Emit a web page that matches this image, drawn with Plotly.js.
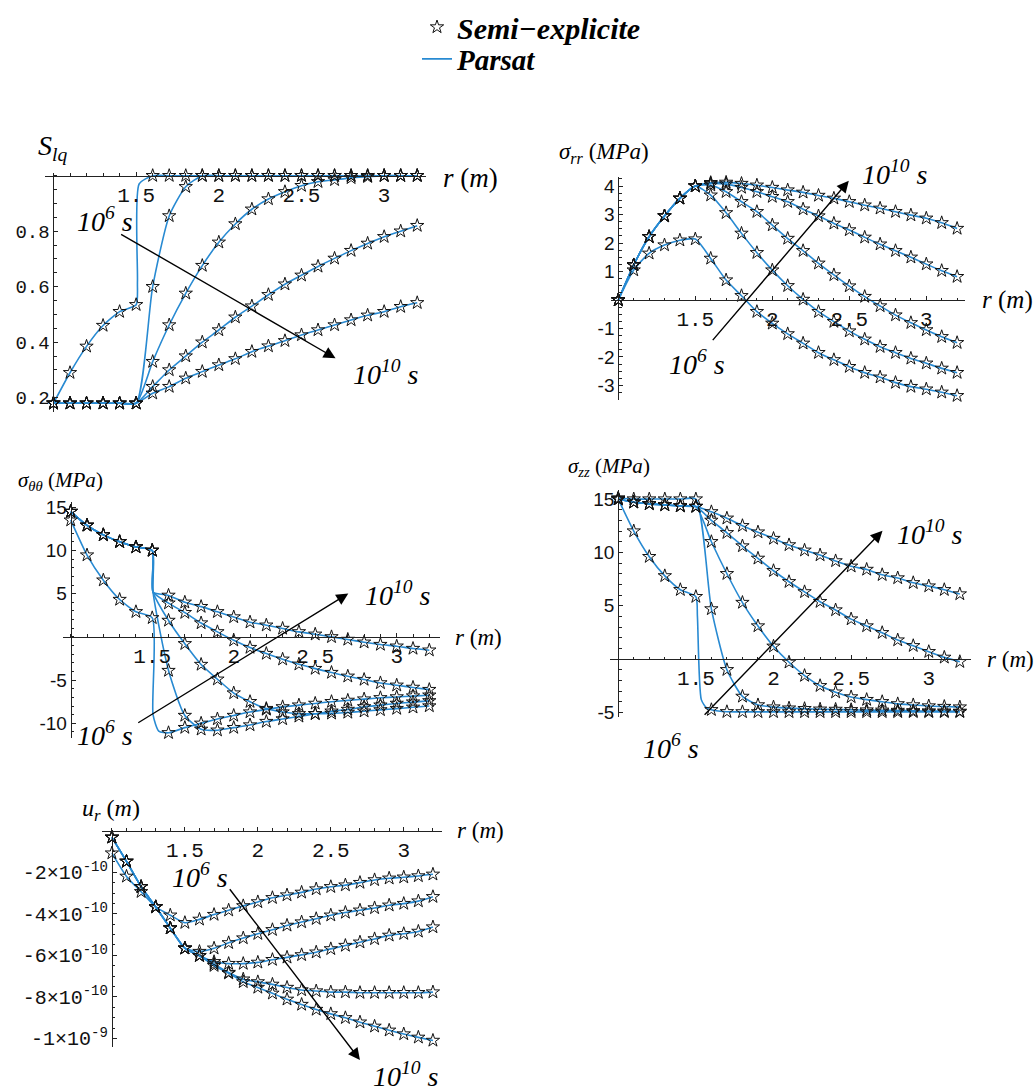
<!DOCTYPE html>
<html><head><meta charset="utf-8">
<script src="https://cdn.plot.ly/plotly-3.0.1.min.js"></script>
<style>body{margin:0;background:#fff}#chart{width:1036px;height:1091px}</style>
</head><body><div id="chart"></div>
<script>
// radial positions of the computed points (m)
const r = [1.0,1.1,1.2,1.3,1.4,1.5,1.6,1.7,1.8,1.9,2.0,2.1,2.2,2.3,2.4,2.5,2.6,2.7,2.8,2.9,3.0,3.1,3.2];

// S_lq, times 10^6 s ... 10^10 s
const slq1 = [0.18,0.29,0.385,0.46,0.51,0.535,1,1,1,1,1,1,1,1,1,1,1,1,1,1,1,1,1];
const slq2 = [0.18,0.18,0.18,0.18,0.18,0.18,0.6,0.855,0.96,1,1,1,1,1,1,1,1,1,1,1,1,1,1];
const slq3 = [0.18,0.18,0.18,0.18,0.18,0.18,0.33,0.462,0.576,0.676,0.76,0.826,0.879,0.916,0.942,0.964,0.978,0.985,0.992,0.996,1,1,1];
const slq4 = [0.18,0.18,0.18,0.18,0.18,0.18,0.24,0.30,0.35,0.40,0.444,0.49,0.53,0.571,0.609,0.641,0.673,0.702,0.73,0.756,0.78,0.80,0.82];
const slq5 = [0.18,0.18,0.18,0.18,0.18,0.18,0.216,0.24,0.27,0.294,0.318,0.34,0.366,0.386,0.405,0.426,0.444,0.462,0.48,0.497,0.51,0.528,0.542];
const slq1JumpR = [1.508,1.518]; const slq1JumpV = [0.62,0.97];

// sigma_rr (MPa)
const srr1 = [0,1.05,1.64,1.93,2.1,2.14,1.46,0.70,0.15,-0.41,-0.82,-1.19,-1.52,-1.85,-2.1,-2.34,-2.55,-2.71,-2.9,-3.04,-3.13,-3.24,-3.36];
const srr2 = [0,1.23,2.22,2.95,3.57,4.0,3.68,3.06,2.34,1.66,1.05,0.5,0.02,-0.41,-0.76,-1.09,-1.38,-1.64,-1.85,-2.05,-2.22,-2.4,-2.55];
const srr3 = [0,1.23,2.22,2.95,3.57,4.0,4.03,3.8,3.45,3.1,2.63,2.16,1.73,1.29,0.88,0.49,0.12,-0.21,-0.53,-0.8,-1.05,-1.29,-1.5];
const srr4 = [0,1.23,2.22,2.95,3.57,4.0,4.09,4.07,3.95,3.8,3.63,3.45,3.19,2.95,2.69,2.46,2.2,1.96,1.73,1.5,1.26,1.03,0.82];
const srr5 = [0,1.23,2.22,2.95,3.57,4.0,4.12,4.13,4.09,4.03,3.95,3.86,3.78,3.67,3.57,3.45,3.33,3.22,3.1,2.98,2.87,2.71,2.51];

// sigma_thetatheta (MPa)
const stt1 = [13.5,9.46,6.56,4.32,2.9,2.2,-11.1,-10.5,-10.0,-9.5,-9.1,-8.7,-8.4,-8.1,-7.9,-7.7,-7.5,-7.35,-7.2,-7.05,-6.95,-6.85,-6.75];
const stt2 = [14.5,12.9,11.8,11.0,10.4,10.0,-3.9,-9.1,-10.7,-10.8,-10.5,-10.2,-9.8,-9.5,-9.2,-8.9,-8.6,-8.4,-8.1,-7.9,-7.7,-7.55,-7.4];
const stt3 = [14.5,12.9,11.8,11.0,10.4,10.0,1.9,-0.8,-3.2,-4.9,-6.5,-7.5,-8.3,-8.7,-8.9,-8.9,-8.85,-8.75,-8.6,-8.45,-8.3,-8.15,-8.0];
const stt4 = [14.5,12.9,11.8,11.0,10.4,10.0,3.9,2.8,1.6,0.58,-0.39,-1.24,-1.93,-2.59,-3.17,-3.67,-4.13,-4.56,-4.94,-5.33,-5.6,-5.85,-6.1];
const stt5 = [14.5,12.9,11.8,11.0,10.4,10.0,4.8,4.0,3.5,2.9,2.3,1.7,1.35,0.97,0.58,0.3,0.0,-0.3,-0.62,-0.89,-1.08,-1.35,-1.54];
const stt1JumpR = [1.505,1.54]; const stt1JumpV = [-9.0,-10.9];
const sttJumpR = [1.505]; const sttJumpV = [5.2];

// sigma_zz (MPa)
const szz1 = [15.0,12.0,9.6,7.8,6.5,5.85,-4.75,-4.94,-4.95,-4.95,-4.95,-4.95,-4.95,-4.95,-4.95,-4.95,-4.95,-4.95,-4.95,-4.95,-4.95,-4.95,-4.95];
const szz2 = [15.1,15.0,15.0,15.0,15.0,15.0,4.7,-1.0,-3.5,-4.3,-4.5,-4.6,-4.65,-4.7,-4.72,-4.75,-4.78,-4.8,-4.82,-4.85,-4.87,-4.88,-4.9];
const szz3 = [15.0,14.7,14.55,14.45,14.35,14.3,11.0,8.0,5.3,3.1,1.2,-0.3,-1.55,-2.5,-3.1,-3.55,-3.8,-4.0,-4.2,-4.3,-4.4,-4.45,-4.5];
const szz4 = [15.0,14.7,14.55,14.45,14.35,14.3,13.0,11.84,10.6,9.44,8.28,7.25,6.3,5.38,4.6,3.75,3.1,2.47,1.78,1.25,0.69,0.16,-0.25];
const szz5 = [15.0,14.7,14.55,14.45,14.35,14.3,13.8,13.2,12.5,11.9,11.3,10.7,10.2,9.75,9.2,8.7,8.4,7.9,7.6,7.15,6.84,6.5,6.1];
const szz1JumpR = [1.51,1.535,1.57]; const szz1JumpV = [4.0,-3.8,-4.6];

// u_r (units of 1e-10 m)
const ur1 = [-1.08,-2.2,-2.94,-3.67,-4.07,-4.43,-4.27,-4.04,-3.83,-3.62,-3.43,-3.23,-3.1,-2.97,-2.81,-2.7,-2.62,-2.5,-2.37,-2.29,-2.24,-2.18,-2.1];
const ur2 = [-0.32,-1.48,-2.7,-3.67,-4.69,-5.66,-5.82,-5.66,-5.4,-5.17,-4.96,-4.77,-4.56,-4.4,-4.24,-4.07,-3.94,-3.83,-3.72,-3.59,-3.51,-3.39,-3.18];
const ur3 = [-0.32,-1.48,-2.7,-3.67,-4.69,-5.66,-6.02,-6.31,-6.4,-6.4,-6.34,-6.21,-6.1,-5.98,-5.85,-5.69,-5.53,-5.37,-5.21,-5.04,-4.96,-4.85,-4.64];
const ur4 = [-0.32,-1.48,-2.7,-3.67,-4.69,-5.66,-6.02,-6.42,-6.83,-7.15,-7.28,-7.4,-7.55,-7.67,-7.72,-7.77,-7.77,-7.8,-7.8,-7.8,-7.8,-7.8,-7.77];
const ur5 = [-0.32,-1.48,-2.7,-3.67,-4.69,-5.66,-6.02,-6.5,-6.86,-7.28,-7.55,-7.83,-8.12,-8.37,-8.61,-8.82,-9.01,-9.22,-9.42,-9.61,-9.79,-9.95,-10.1];

// tick labels
const xTickVals = [1.5,2,2.5,3];
const xTickText = ['1.5','2','2.5','3'];
const slqTickVals = [0.2,0.4,0.6,0.8];
const slqTickText = ['0.2','0.4','0.6','0.8'];
const srrTickVals = [-3,-2,-1,1,2,3,4];
const srrTickText = ['-3','-2','-1','1','2','3','4'];
const sttTickVals = [-10,-5,5,10,15];
const sttTickText = ['-10','-5','5','10','15'];
const szzTickVals = [-5,5,10,15];
const szzTickText = ['-5','5','10','15'];
const urTickVals = [-10,-8,-6,-4,-2];
const urTickText = ['-1×10<sup>-9</sup>','-8×10<sup>-10</sup>','-6×10<sup>-10</sup>','-4×10<sup>-10</sup>','-2×10<sup>-10</sup>'];

const BLUE = 'rgb(40,138,210)';
const W = 1036, H = 1091;

function merged(vals, exR, exV) {
  const pts = r.map((x,i)=>[x, vals[i]]);
  (exR||[]).forEach((x,i)=>pts.push([x, exV[i]]));
  pts.sort((a,b)=>a[0]-b[0]);
  return {x: pts.map(p=>p[0]), y: pts.map(p=>p[1])};
}

const panels = [
  {xa:'x', ya:'y', curves:[[slq1,slq1JumpR,slq1JumpV],[slq2],[slq3],[slq4],[slq5]]},
  {xa:'x2', ya:'y2', curves:[[srr1],[srr2],[srr3],[srr4],[srr5]]},
  {xa:'x3', ya:'y3', curves:[[stt1,stt1JumpR,stt1JumpV],[stt2,sttJumpR,sttJumpV],[stt3,sttJumpR,sttJumpV],[stt4,sttJumpR,sttJumpV],[stt5,sttJumpR,sttJumpV]]},
  {xa:'x4', ya:'y4', curves:[[szz1,szz1JumpR,szz1JumpV],[szz2],[szz3],[szz4],[szz5]]},
  {xa:'x5', ya:'y5', curves:[[ur1],[ur2],[ur3],[ur4],[ur5]]}
];

const traces = [];
panels.forEach((p, pi) => {
  p.curves.forEach((c, ci) => {
    const m = merged(c[0], c[1], c[2]);
    traces.push({type:'scatter', mode:'lines', x:m.x, y:m.y, xaxis:p.xa, yaxis:p.ya,
      line:{color:BLUE, width:1.6, shape:'spline', smoothing:0.6},
      name:'<b><i>Parsat</i></b>', showlegend:(pi===0&&ci===0), legend:'legend2', hoverinfo:'skip'});
  });
});
panels.forEach((p, pi) => {
  p.curves.forEach((c, ci) => {
    traces.push({type:'scatter', mode:'markers', x:r, y:c[0], xaxis:p.xa, yaxis:p.ya, cliponaxis:false,
      marker:{symbol:'star-open', size:10, color:'#111', line:{width:1, color:'#111'}},
      name:'<b><i>Semi\u2212explicite</i></b>', showlegend:(pi===0&&ci===0), legend:'legend', hoverinfo:'skip'});
  });
});

function px2fx(px){return px/W;}
function py2fy(py){return 1-py/H;}
function posAt(v, range, dom){return dom[0] + (v-range[0])/(range[1]-range[0])*(dom[1]-dom[0]);}

// subplot geometry
const G = [
  {xr:[0.95,3.25], xd:[px2fx(45.2),px2fx(425.5)], yr:[0.15,1.01], yd:[py2fy(411.6),py2fy(172.9)], cross:1.0,
   yt:[slqTickVals,slqTickText], yfont:{family:'Liberation Mono', size:19}, minorY:0.05},
  {xr:[0.95,3.25], xd:[px2fx(610.6),px2fx(964.8)], yr:[-3.51,4.33], yd:[py2fy(400),py2fy(176.7)], cross:0,
   yt:[srrTickVals,srrTickText], yfont:{family:'Liberation Sans', size:19}, minorY:0.25},
  {xr:[0.955,3.265], xd:[px2fx(63.4),px2fx(439.9)], yr:[-11.7,15.64], yd:[py2fy(738),py2fy(501.7)], cross:0,
   yt:[sttTickVals,sttTickText], yfont:{family:'Liberation Sans', size:19}, minorY:1},
  {xr:[0.947,3.27], xd:[px2fx(610),px2fx(970.7)], yr:[-5.4,15.85], yd:[py2fy(716.7),py2fy(490)], cross:0,
   yt:[szzTickVals,szzTickText], yfont:{family:'Liberation Sans', size:19}, minorY:1},
  {xr:[0.93,3.26], xd:[px2fx(101.7),px2fx(441.7)], yr:[-10.4,0], yd:[py2fy(1046.7),py2fy(830.7)], cross:0,
   yt:[urTickVals,urTickText], yfont:{family:'Liberation Mono', size:20}, minorY:0.5}
];

const layout = {
  width:W, height:H, margin:{l:0,r:0,t:0,b:0},
  paper_bgcolor:'#fff', plot_bgcolor:'rgba(0,0,0,0)',
  showlegend:true,
  legend:{x:px2fx(417), xanchor:'left', y:py2fy(27), yanchor:'middle', bgcolor:'rgba(0,0,0,0)',
          font:{family:'Liberation Serif', size:30, color:'#000'}, itemwidth:30},
  legend2:{x:px2fx(417), xanchor:'left', y:py2fy(59), yanchor:'middle', bgcolor:'rgba(0,0,0,0)',
          font:{family:'Liberation Serif', size:29, color:'#000'}, itemwidth:30},
  annotations:[], font:{family:'Liberation Serif', color:'#000'}
};

G.forEach((g, i) => {
  const n = i===0 ? '' : String(i+1);
  layout['xaxis'+n] = {
    domain:g.xd, range:g.xr, anchor:'free', position:posAt(g.cross, g.yr, g.yd),
    showline:true, linecolor:'#222', linewidth:1, showgrid:false, zeroline:false,
    ticks:'inside', ticklen:4, tickwidth:1, tickcolor:'#222',
    tickmode:'array', tickvals:xTickVals, ticktext:xTickText,
    tickfont:{family:'Liberation Mono', size:21, color:'#111'},
    minor:{tickmode:'linear', tick0:1.0, dtick:0.1, ticks:'inside', ticklen:2.5, tickcolor:'#222', showgrid:false}
  };
  layout['yaxis'+n] = {
    domain:g.yd, range:g.yr, anchor:'free', position:posAt(1.0, g.xr, g.xd),
    showline:true, linecolor:'#222', linewidth:1, showgrid:false, zeroline:false,
    ticks:'inside', ticklen:4, tickwidth:1, tickcolor:'#222',
    tickmode:'array', tickvals:g.yt[0], ticktext:g.yt[1],
    tickfont:Object.assign({color:'#111'}, g.yfont),
    minor:{tickmode:'linear', tick0:0, dtick:g.minorY, ticks:'inside', ticklen:2.5, tickcolor:'#222', showgrid:false}
  };
});

const ann = layout.annotations;
const serif = (s)=>({family:'Liberation Serif', size:s, color:'#000'});
function label(text, px, py, size, xanchor){
  ann.push({xref:'paper', yref:'paper', x:px2fx(px), y:py2fy(py), text:text, showarrow:false,
    xanchor:xanchor||'center', yanchor:'middle', font:serif(size)});
}
function arrow(xa, ya, tail, head){
  ann.push({xref:xa, yref:ya, axref:xa, ayref:ya, x:head[0], y:head[1], ax:tail[0], ay:tail[1],
    text:'', showarrow:true, arrowhead:2, arrowsize:1.7, arrowwidth:1.4, arrowcolor:'#000', standoff:0, startstandoff:0});
}
const T6 = '<i>10<sup>6</sup> s</i>', T10 = '<i>10<sup>10</sup> s</i>';
const RM = '<i>r</i> (<i>m</i>)';

// panel 1
label('<i>S<sub>lq</sub></i>', 52, 147, 28);
label(RM, 441, 178, 27, 'left');
label(T6, 105, 220, 28); label(T10, 386, 372, 28);
arrow('x','y',[1.40,0.792],[2.706,0.342]);
// panel 2
label('<i>σ<sub>rr</sub></i> (<i>MPa</i>)', 557, 153, 23, 'left');
label(RM, 980, 300, 25, 'left');
label(T10, 895, 173, 28); label(T6, 697, 362, 28);
arrow('x2','y2',[1.605,-1.46],[2.497,4.19]);
// panel 3
label('<i>σ<sub>θθ</sub></i> (<i>MPa</i>)', 16, 481, 21, 'left');
label(RM, 453, 637, 23, 'left');
label(T10, 398, 593, 28); label(T6, 105, 733, 28);
arrow('x3','y3',[1.405,-10.04],[2.703,5.02]);
// panel 4
label('<i>σ<sub>zz</sub></i> (<i>MPa</i>)', 566, 467, 21, 'left');
label(RM, 985, 659, 23, 'left');
label(T10, 930, 532, 28); label(T6, 671, 746, 28);
arrow('x4','y4',[1.547,-5.35],[2.702,12.03]);
// panel 5
label('<i>u<sub>r</sub></i> (<i>m</i>)', 80, 810, 24, 'left');
label(RM, 455, 830, 23, 'left');
label(T6, 200, 875, 28); label(T10, 406, 1074, 28);
arrow('x5','y5',[1.8,-2.745],[2.70,-11.04]);

Plotly.newPlot('chart', traces, layout, {staticPlot:true});
</script>
</body></html>
